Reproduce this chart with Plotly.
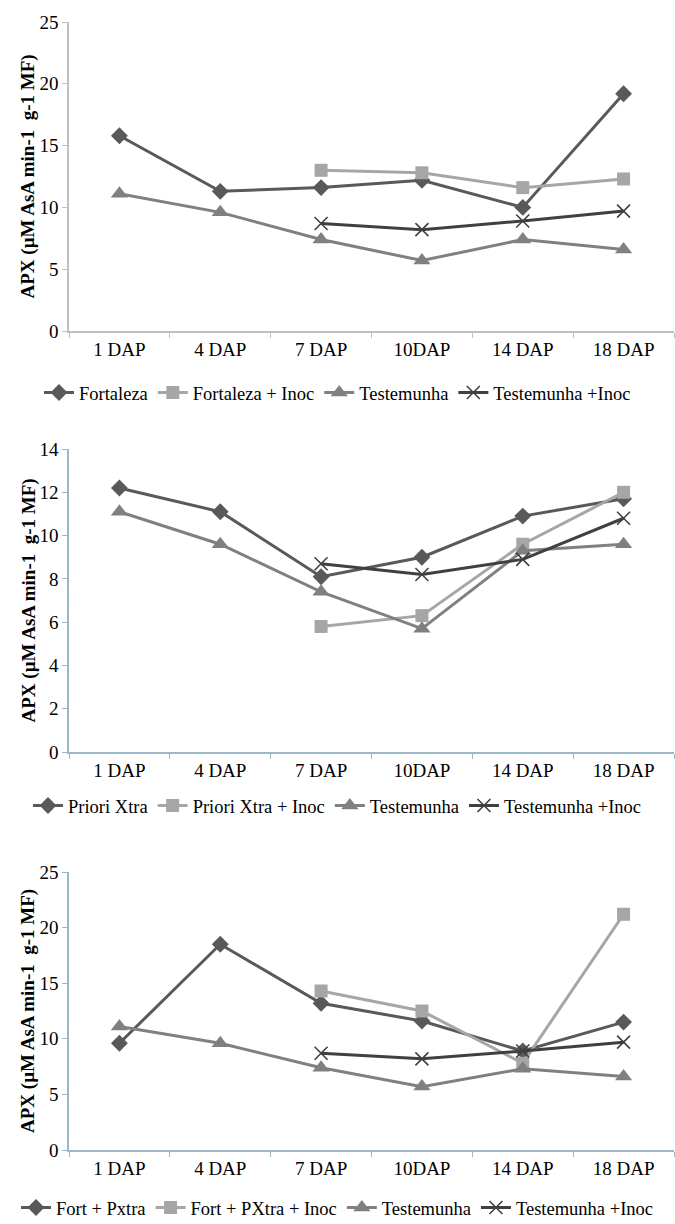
import plotly.graph_objects as go

categories = ["1 DAP", "4 DAP", "7 DAP", "10DAP", "14 DAP", "18 DAP"]

# Panel 1
p1_names = ["Fortaleza", "Fortaleza + Inoc", "Testemunha", "Testemunha +Inoc"]
p1_fortaleza = [15.8, 11.3, 11.6, 12.2, 10.0, 19.2]
p1_fortaleza_inoc = [None, None, 13.0, 12.8, 11.6, 12.3]
p1_testemunha = [11.1, 9.6, 7.4, 5.7, 7.4, 6.6]
p1_testemunha_inoc = [None, None, 8.7, 8.2, 8.9, 9.7]

# Panel 2
p2_names = ["Priori Xtra", "Priori Xtra + Inoc", "Testemunha", "Testemunha +Inoc"]
p2_priori = [12.2, 11.1, 8.1, 9.0, 10.9, 11.7]
p2_priori_inoc = [None, None, 5.8, 6.3, 9.6, 12.0]
p2_testemunha = [11.1, 9.6, 7.4, 5.7, 9.3, 9.6]
p2_testemunha_inoc = [None, None, 8.7, 8.2, 8.9, 10.8]

# Panel 3
p3_names = ["Fort + Pxtra", "Fort + PXtra + Inoc", "Testemunha", "Testemunha +Inoc"]
p3_fort_pxtra = [9.6, 18.5, 13.2, 11.6, 8.9, 11.5]
p3_fort_pxtra_inoc = [None, None, 14.3, 12.5, 7.8, 21.2]
p3_testemunha = [11.1, 9.6, 7.4, 5.7, 7.3, 6.6]
p3_testemunha_inoc = [None, None, 8.7, 8.2, 8.9, 9.7]

y_title = "APX (µM AsA min-1  g-1 MF)"

W, H = 675, 1224
FONT = "Liberation Serif"

styles = [
    dict(color="#595959", symbol="diamond", size=13),
    dict(color="#a6a6a6", symbol="square", size=13),
    dict(color="#808080", symbol="triangle-up", size=15),
    dict(color="#404040", symbol="x-thin", size=13),
]

panels = [
    dict(names=p1_names, data=[p1_fortaleza, p1_fortaleza_inoc, p1_testemunha, p1_testemunha_inoc],
         top=22, bottom=331, ymax=25, dtick=5, legend_y=393, axcol="#bfbfbf"),
    dict(names=p2_names, data=[p2_priori, p2_priori_inoc, p2_testemunha, p2_testemunha_inoc],
         top=449, bottom=752, ymax=14, dtick=2, legend_y=806, axcol="#9ab8c8"),
    dict(names=p3_names, data=[p3_fort_pxtra, p3_fort_pxtra_inoc, p3_testemunha, p3_testemunha_inoc],
         top=872, bottom=1150, ymax=25, dtick=5, legend_y=1208, axcol="#9ab8c8"),
]

x0, x1 = 69, 674

fig = go.Figure()
layout = dict(
    width=W, height=H,
    margin=dict(l=0, r=0, t=0, b=0, autoexpand=False),
    paper_bgcolor="white", plot_bgcolor="white",
    font=dict(family=FONT, color="#000000", size=18),
    annotations=[],
    showlegend=True,
)

for i, p in enumerate(panels):
    k = i + 1
    xa = "x" if k == 1 else f"x{k}"
    ya = "y" if k == 1 else f"y{k}"
    lg = "legend" if k == 1 else f"legend{k}"
    for name, vals, st in zip(p["names"], p["data"], styles):
        mk = dict(color=st["color"], symbol=st["symbol"], size=st["size"])
        if st["symbol"] == "x-thin":
            mk["line"] = dict(color=st["color"], width=1.6)
        fig.add_trace(go.Scatter(
            x=categories, y=vals, name=name, mode="lines+markers",
            line=dict(color=st["color"], width=3),
            marker=mk, xaxis=xa, yaxis=ya, legend=lg,
        ))
    xkey = "xaxis" if k == 1 else f"xaxis{k}"
    ykey = "yaxis" if k == 1 else f"yaxis{k}"
    layout[xkey] = dict(
        domain=[x0 / W, x1 / W], anchor=ya, type="category",
        categoryorder="array", categoryarray=categories,
        showline=True, linecolor=p["axcol"], linewidth=1.5,
        ticks="outside", tickson="boundaries", ticklen=5, tickcolor=p["axcol"],
        showgrid=False, zeroline=False, tickfont=dict(size=19, family=FONT),
        range=[-0.5, 5.5], automargin=False,
    )
    layout[ykey] = dict(
        domain=[1 - p["bottom"] / H, 1 - p["top"] / H], anchor=xa,
        range=[0, p["ymax"]], dtick=p["dtick"], tick0=0,
        showline=True, linecolor=p["axcol"], linewidth=1.5,
        ticks="outside", ticklen=5, tickcolor=p["axcol"],
        showgrid=False, zeroline=False, tickfont=dict(size=19, family=FONT),
        automargin=False,
    )
    layout[lg] = dict(
        orientation="h", x=0.5, xanchor="center",
        y=1 - p["legend_y"] / H, yanchor="middle",
        font=dict(size=18.5, family=FONT), bgcolor="rgba(0,0,0,0)",
        itemwidth=30, tracegroupgap=0,
    )
    layout["annotations"].append(dict(
        text=f"<b>{y_title}</b>", textangle=-90,
        x=28 / W, y=1 - (p["top"] + p["bottom"]) / 2 / H,
        xref="paper", yref="paper", xanchor="center", yanchor="middle",
        showarrow=False, font=dict(size=19, family=FONT, color="#000000"),
    ))

fig.update_layout(**layout)
fig.write_html("out.html")
